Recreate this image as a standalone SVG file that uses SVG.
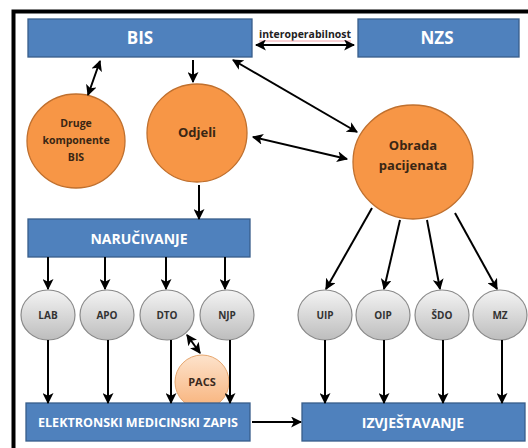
<svg xmlns="http://www.w3.org/2000/svg" width="528" height="448" viewBox="0 0 528 448">
<defs>
<marker id="ah" viewBox="0 0 10 10" refX="9" refY="5" markerWidth="5.5" markerHeight="5.5" orient="auto-start-reverse" markerUnits="strokeWidth">
<path d="M0,0 L10,5 L0,10 L2.5,5 Z" fill="#000"/>
</marker>
<linearGradient id="gray" x1="0" y1="0" x2="0" y2="1">
<stop offset="0" stop-color="#f4f4f4"/>
<stop offset="1" stop-color="#bdbdbd"/>
</linearGradient>
<linearGradient id="pacs" x1="0" y1="0" x2="0" y2="1">
<stop offset="0" stop-color="#fde3cc"/>
<stop offset="1" stop-color="#f8b27a"/>
</linearGradient>
<style>
.box{fill:#4f81bd;stroke:#385d8a;stroke-width:1.3}
.org{fill:#f79646;stroke:#c0702e;stroke-width:1.3}
.gry{fill:url(#gray);stroke:#8a8a8a;stroke-width:1.2}
.btxt{font-family:"Open Sans","Liberation Sans",sans-serif;font-weight:bold;fill:#fff;text-anchor:middle}
.otxt{font-family:"Open Sans","Liberation Sans",sans-serif;font-weight:bold;fill:#3a2614;text-anchor:middle}
.gtxt{font-family:"Open Sans","Liberation Sans",sans-serif;font-weight:bold;fill:#333;text-anchor:middle;font-size:10px}
.c{stroke:#000;stroke-width:2;fill:none;marker-end:url(#ah)}
.d{stroke:#000;stroke-width:2;fill:none;marker-end:url(#ah);marker-start:url(#ah)}
</style>
</defs>
<rect x="0" y="0" width="528" height="448" fill="#fff"/>
<rect x="13.5" y="11.5" width="530" height="450" fill="none" stroke="#000" stroke-width="4"/>

<g id="bis"><rect class="box" x="28" y="19" width="224" height="38"/><text class="btxt" x="140" y="44" font-size="17">BIS</text></g>
<g id="nzs"><rect class="box" x="358" y="19" width="161" height="38"/><text class="btxt" x="437" y="44" font-size="17">NZS</text></g>
<g id="druge"><ellipse class="org" cx="76" cy="141" rx="49" ry="47"/>
<text class="otxt" font-size="10.5"><tspan x="76" y="127">Druge</tspan><tspan x="76" y="144">komponente</tspan><tspan x="76" y="161">BIS</tspan></text></g>
<g id="odjeli"><ellipse class="org" cx="197" cy="133" rx="50" ry="49"/><text class="otxt" x="197" y="137" font-size="13">Odjeli</text></g>
<g id="obrada"><ellipse class="org" cx="413" cy="162" rx="60" ry="57"/>
<text class="otxt" font-size="13"><tspan x="413" y="150">Obrada</tspan><tspan x="413" y="170">pacijenata</tspan></text></g>
<g id="narucivanje"><rect class="box" x="28" y="219" width="222" height="38"/><text class="btxt" x="139" y="244" font-size="14">NARUČIVANJE</text></g>

<g id="lab"><ellipse class="gry" cx="48" cy="315" rx="27" ry="25"/><text class="gtxt" x="48" y="319">LAB</text></g>
<g id="apo"><ellipse class="gry" cx="107" cy="315" rx="27" ry="25"/><text class="gtxt" x="107" y="319">APO</text></g>
<g id="dto"><ellipse class="gry" cx="167" cy="315" rx="27" ry="25"/><text class="gtxt" x="167" y="319">DTO</text></g>
<g id="njp"><ellipse class="gry" cx="227" cy="315" rx="27" ry="25"/><text class="gtxt" x="227" y="319">NJP</text></g>
<g id="uip"><ellipse class="gry" cx="325" cy="315" rx="27" ry="25"/><text class="gtxt" x="325" y="319">UIP</text></g>
<g id="oip"><ellipse class="gry" cx="383" cy="315" rx="27" ry="25"/><text class="gtxt" x="383" y="319">OIP</text></g>
<g id="sdo"><ellipse class="gry" cx="442" cy="315" rx="27" ry="25"/><text class="gtxt" x="442" y="319">ŠDO</text></g>
<g id="mz"><ellipse class="gry" cx="500" cy="315" rx="27" ry="25"/><text class="gtxt" x="500" y="319">MZ</text></g>

<g id="pacs"><circle cx="202" cy="382" r="27" fill="url(#pacs)" stroke="#e6a66e" stroke-width="1"/><text class="otxt" x="202" y="386" font-size="11" style="fill:#3a2a1e">PACS</text></g>

<g id="emz"><rect class="box" x="26" y="403" width="224" height="38"/><text class="btxt" x="138" y="427" font-size="13" textLength="200" lengthAdjust="spacingAndGlyphs">ELEKTRONSKI MEDICINSKI ZAPIS</text></g>
<g id="izvj"><rect class="box" x="302" y="403" width="223" height="38"/><text class="btxt" x="413" y="428" font-size="14">IZVJEŠTAVANJE</text></g>

<g id="interop-label"><text x="305" y="38" font-family="Open Sans, Liberation Sans, sans-serif" font-weight="bold" font-size="10.5" fill="#222" text-anchor="middle" textLength="92" lengthAdjust="spacingAndGlyphs">interoperabilnost</text>
<line x1="259" y1="41" x2="351" y2="41" stroke="#f2a0a8" stroke-width="1"/></g>

<g id="connectors">
<line class="d" x1="256" y1="45" x2="354" y2="45"/>
<line class="d" x1="100" y1="61" x2="88" y2="95"/>
<line class="c" x1="193" y1="60" x2="193" y2="82"/>
<line class="d" x1="233" y1="60" x2="357" y2="132"/>
<line class="d" x1="253" y1="137" x2="347" y2="159"/>
<line class="c" x1="199" y1="185" x2="199" y2="219"/>
<line class="c" x1="48" y1="257" x2="48" y2="289"/>
<line class="c" x1="105" y1="257" x2="105" y2="289"/>
<line class="c" x1="166" y1="257" x2="166" y2="289"/>
<line class="c" x1="225" y1="257" x2="225" y2="289"/>
<line class="c" x1="372" y1="208" x2="326" y2="289"/>
<line class="c" x1="400" y1="220" x2="384" y2="289"/>
<line class="c" x1="427" y1="220" x2="440" y2="289"/>
<line class="c" x1="455" y1="213" x2="497" y2="289"/>
<line class="c" x1="48" y1="340" x2="48" y2="403"/>
<line class="c" x1="108" y1="340" x2="108" y2="403"/>
<line class="c" x1="171" y1="340" x2="171" y2="403"/>
<line class="c" x1="230" y1="340" x2="230" y2="403"/>
<line class="c" x1="325" y1="340" x2="325" y2="403"/>
<line class="c" x1="384" y1="340" x2="384" y2="403"/>
<line class="c" x1="443" y1="340" x2="443" y2="403"/>
<line class="c" x1="502" y1="340" x2="502" y2="403"/>
<line class="d" x1="187" y1="335" x2="200" y2="353"/>
<line class="c" x1="252" y1="422" x2="301" y2="422"/>
</g>
</svg>
